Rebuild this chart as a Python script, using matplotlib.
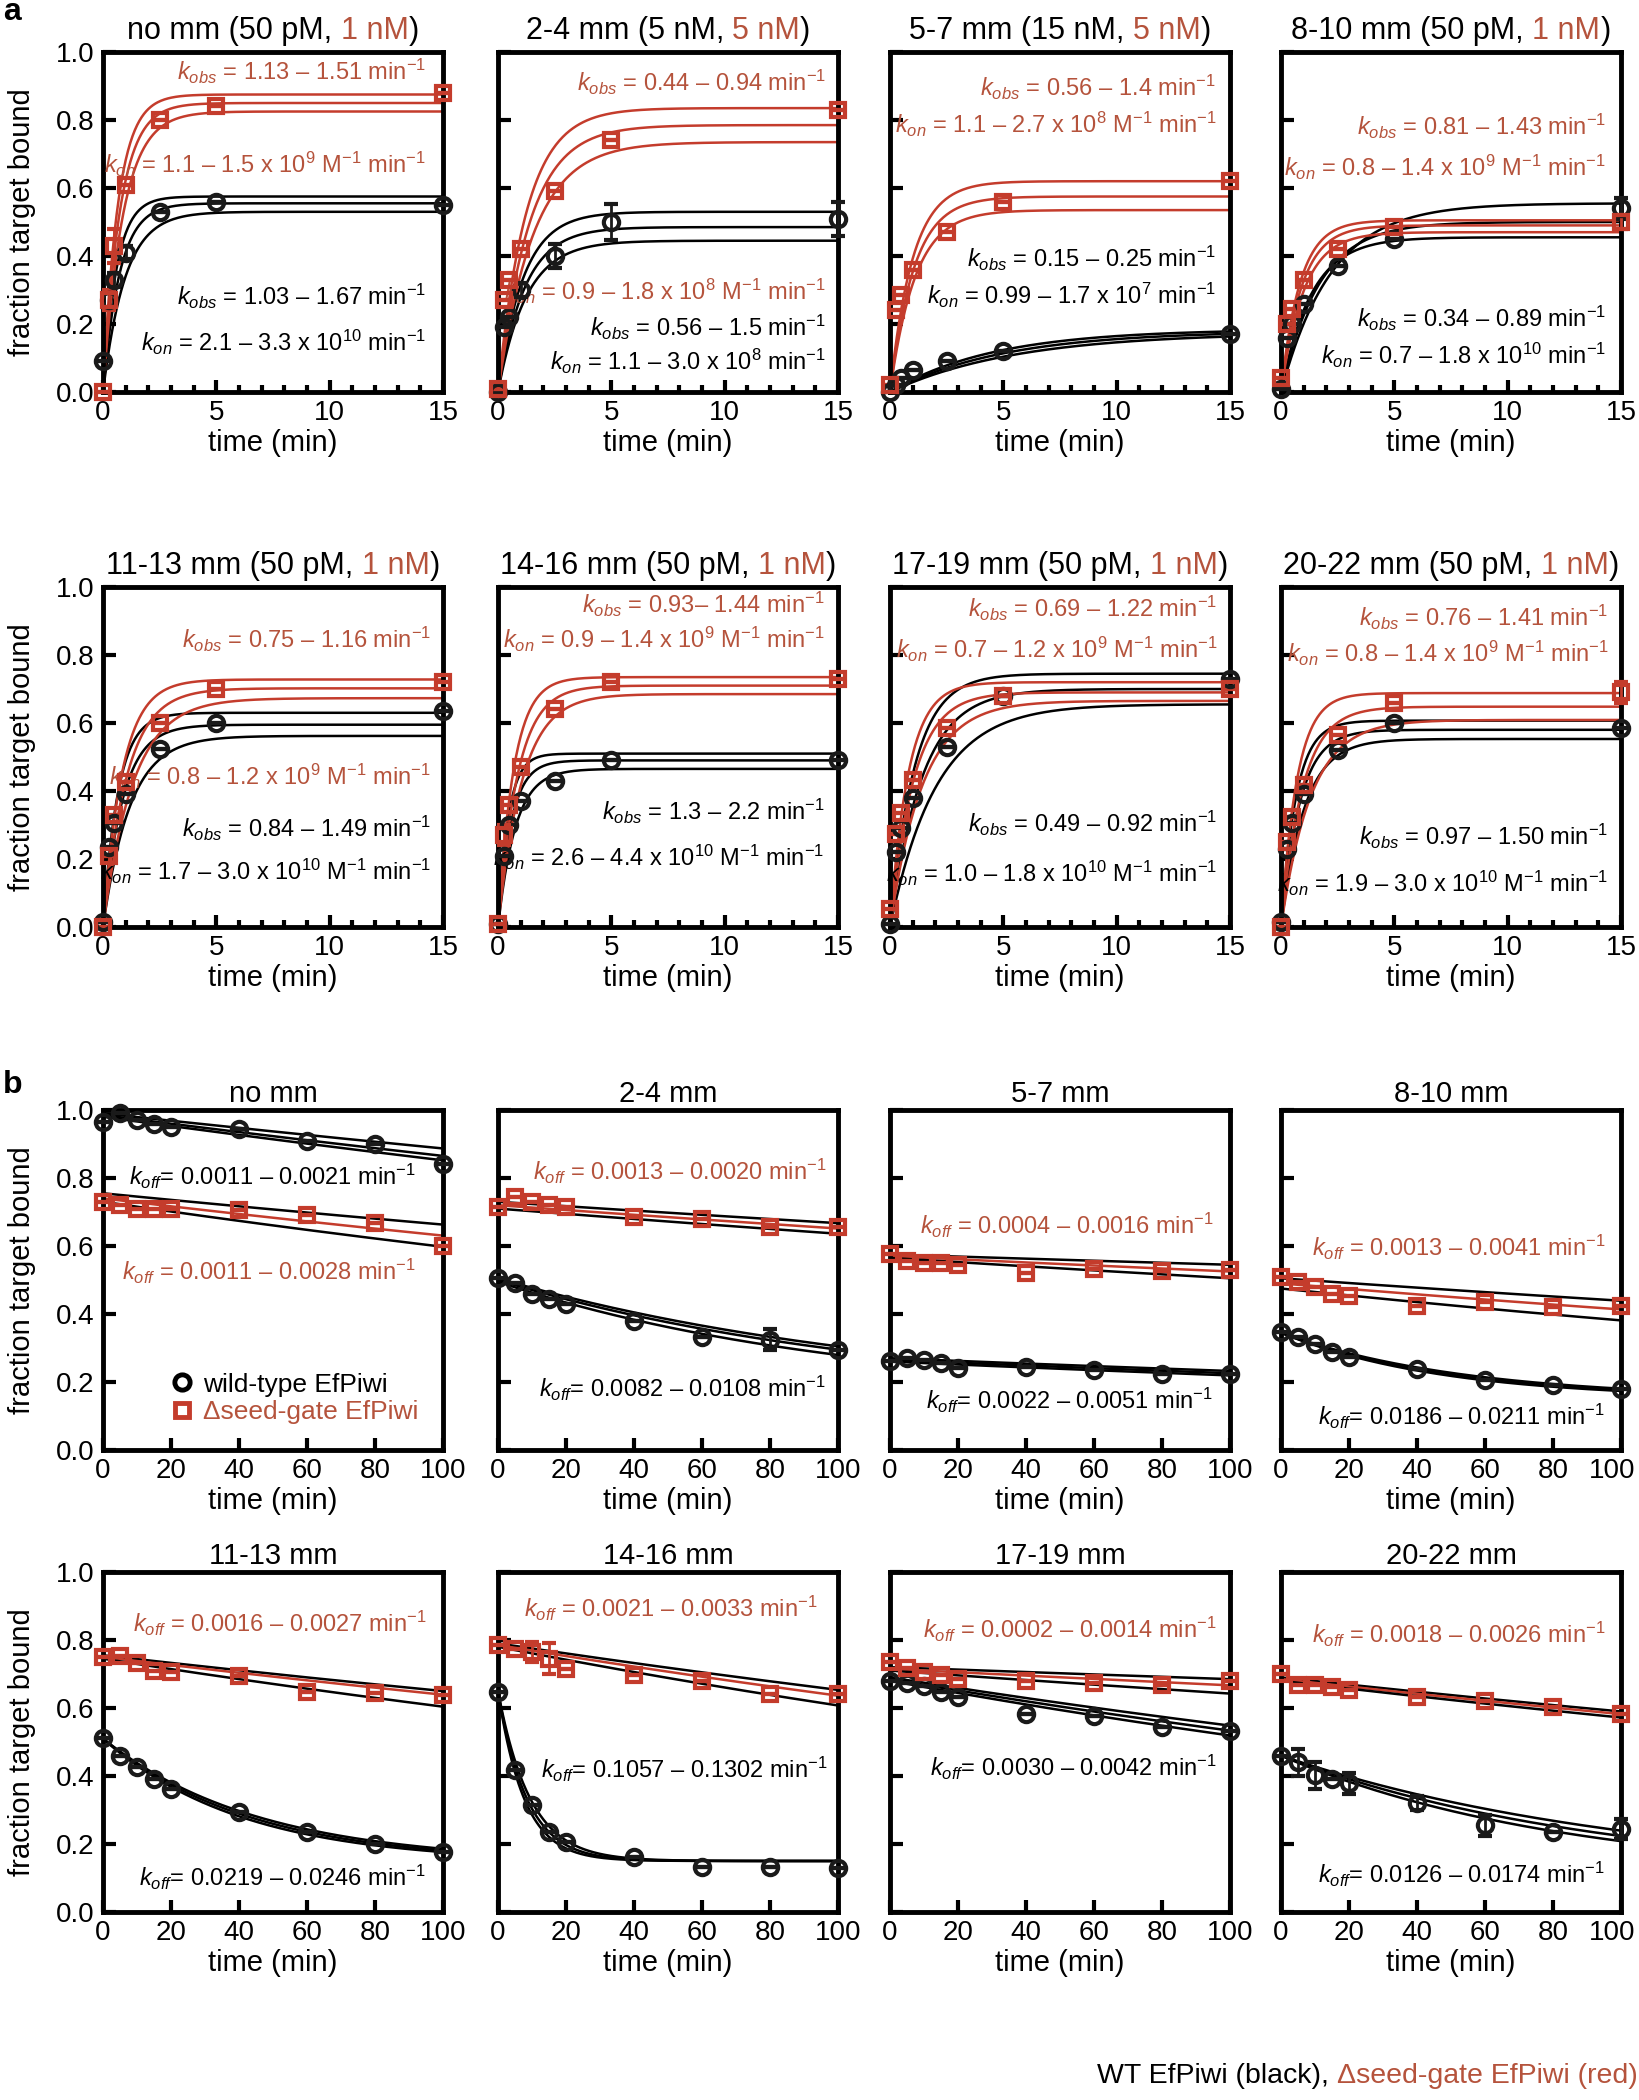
import numpy as np
import matplotlib
matplotlib.use("Agg")
import matplotlib.pyplot as plt
import matplotlib.transforms as mtransforms
from matplotlib.lines import Line2D

plt.rcParams["font.family"] = ["Liberation Sans", "DejaVu Sans"]
plt.rcParams["mathtext.fontset"] = "custom"
plt.rcParams["mathtext.rm"] = "Liberation Sans"
plt.rcParams["mathtext.it"] = "Liberation Sans:italic"
plt.rcParams["mathtext.bf"] = "Liberation Sans:bold"

RED = "#c43c2c"
RED_TXT = "#b5533c"

names = ["no mm", "2-4 mm", "5-7 mm", "8-10 mm", "11-13 mm", "14-16 mm", "17-19 mm", "20-22 mm"]

# ---------------- a: association ----------------
t_on = [0, 0.25, 0.5, 1, 2.5, 5, 15]
conc_wt = ["50 pM", "5 nM", "15 nM", "50 pM", "50 pM", "50 pM", "50 pM", "50 pM"]
conc_sg = ["1 nM", "5 nM", "5 nM", "1 nM", "1 nM", "1 nM", "1 nM", "1 nM"]

on_wt = [
    [0.09, 0.27, 0.33, 0.41, 0.53, 0.56, 0.55],
    [0.0, 0.19, 0.22, 0.30, 0.40, 0.50, 0.51],
    [0.0, 0.02, 0.04, 0.065, 0.09, 0.12, 0.17],
    [0.01, 0.16, 0.20, 0.26, 0.37, 0.45, 0.54],
    [0.015, 0.235, 0.305, 0.39, 0.525, 0.60, 0.634],
    [0.01, 0.21, 0.30, 0.37, 0.43, 0.49, 0.49],
    [0.01, 0.22, 0.29, 0.38, 0.53, 0.68, 0.73],
    [0.015, 0.23, 0.305, 0.39, 0.52, 0.60, 0.585],
]
on_wt_err = [
    [0, 0.02, 0.02, 0.02, 0, 0, 0],
    [0, 0, 0, 0.02, 0.035, 0.052, 0.05],
    [0, 0, 0, 0, 0, 0, 0],
    [0, 0, 0, 0, 0, 0, 0.03],
    [0, 0, 0, 0, 0, 0, 0],
    [0, 0, 0, 0, 0, 0, 0],
    [0, 0, 0, 0, 0, 0, 0],
    [0, 0, 0, 0, 0, 0, 0],
]
on_sg = [
    [0.0, 0.27, 0.43, 0.61, 0.80, 0.84, 0.88],
    [0.01, 0.27, 0.33, 0.42, 0.59, 0.74, 0.83],
    [0.02, 0.24, 0.285, 0.36, 0.47, 0.56, 0.62],
    [0.04, 0.20, 0.245, 0.33, 0.42, 0.485, 0.50],
    [0.0, 0.21, 0.33, 0.427, 0.60, 0.70, 0.722],
    [0.01, 0.27, 0.36, 0.47, 0.64, 0.72, 0.73],
    [0.054, 0.275, 0.334, 0.432, 0.585, 0.68, 0.70],
    [0.0, 0.25, 0.324, 0.417, 0.565, 0.658, 0.69],
]
on_sg_err = [
    [0, 0.03, 0.05, 0, 0, 0, 0],
    [0, 0, 0, 0, 0, 0, 0],
    [0, 0, 0, 0, 0, 0, 0],
    [0, 0, 0, 0, 0, 0, 0.02],
    [0, 0, 0, 0, 0, 0, 0],
    [0, 0.03, 0, 0, 0, 0, 0],
    [0, 0, 0, 0, 0, 0, 0],
    [0, 0, 0, 0, 0, 0, 0.03],
]
# fitted curves (upper, middle, lower): amplitude and k_obs
on_wt_amp = [[0.575, 0.555, 0.53], [0.53, 0.485, 0.445], [0.185, 0.18, 0.175], [0.555, 0.50, 0.455],
             [0.63, 0.595, 0.562], [0.51, 0.49, 0.465], [0.745, 0.70, 0.655], [0.607, 0.58, 0.553]]
on_wt_k = [[1.67, 1.35, 1.03], [0.9, 0.85, 0.8], [0.22, 0.2, 0.18], [0.45, 0.6, 0.75],
           [1.49, 1.15, 0.84], [2.2, 1.7, 1.3], [0.92, 0.7, 0.49], [1.5, 1.2, 0.97]]
on_sg_amp = [[0.875, 0.85, 0.825], [0.835, 0.785, 0.735], [0.62, 0.575, 0.535], [0.505, 0.49, 0.47],
             [0.728, 0.702, 0.673], [0.735, 0.71, 0.685], [0.72, 0.69, 0.665], [0.688, 0.648, 0.609]]
on_sg_k = [[1.51, 1.32, 1.13], [0.8, 0.72, 0.64], [1.0, 0.95, 0.9], [1.2, 1.1, 1.0],
           [1.16, 0.95, 0.75], [1.44, 1.15, 0.93], [1.22, 0.95, 0.69], [1.41, 1.05, 0.76]]

kobs_wt = ["1.03 – 1.67", "0.56 – 1.5", "0.15 – 0.25", "0.34 – 0.89", "0.84 – 1.49", "1.3 – 2.2", "0.49 – 0.92", "0.97 – 1.50"]
kobs_sg = ["1.13 – 1.51", "0.44 – 0.94", "0.56 – 1.4", "0.81 – 1.43", "0.75 – 1.16", "0.93– 1.44", "0.69 – 1.22", "0.76 – 1.41"]
kon_wt = ["2.1 – 3.3", "1.1 – 3.0", "0.99 – 1.7", "0.7 – 1.8", "1.7 – 3.0", "2.6 – 4.4", "1.0 – 1.8", "1.9 – 3.0"]
kon_wt_exp = [10, 8, 7, 10, 10, 10, 10, 10]
kon_wt_molar = [False, False, False, False, True, True, True, True]
kon_sg = ["1.1 – 1.5", "0.9 – 1.8", "1.1 – 2.7", "0.8 – 1.4", "0.8 – 1.2", "0.9 – 1.4", "0.7 – 1.2", "0.8 – 1.4"]
kon_sg_exp = [9, 8, 8, 9, 9, 9, 9, 9]

# ---------------- b: dissociation ----------------
t_off = [0, 5, 10, 15, 20, 40, 60, 80, 100]
off_wt = [
    [0.965, 0.99, 0.97, 0.96, 0.95, 0.945, 0.91, 0.90, 0.84],
    [0.505, 0.49, 0.46, 0.445, 0.43, 0.38, 0.333, 0.325, 0.294],
    [0.263, 0.27, 0.266, 0.256, 0.24, 0.245, 0.235, 0.225, 0.225],
    [0.346, 0.332, 0.312, 0.288, 0.273, 0.239, 0.205, 0.19, 0.178],
    [0.513, 0.458, 0.426, 0.392, 0.363, 0.294, 0.235, 0.20, 0.176],
    [0.647, 0.417, 0.314, 0.235, 0.206, 0.162, 0.132, 0.132, 0.129],
    [0.68, 0.674, 0.665, 0.647, 0.633, 0.582, 0.576, 0.543, 0.533],
    [0.459, 0.44, 0.402, 0.391, 0.378, 0.321, 0.255, 0.234, 0.245],
]
off_wt_err = [
    [0] * 9,
    [0, 0, 0, 0, 0, 0, 0, 0.03, 0],
    [0] * 9,
    [0] * 9,
    [0] * 9,
    [0] * 9,
    [0] * 9,
    [0, 0.04, 0.04, 0, 0.03, 0.02, 0.03, 0, 0.03],
]
off_sg = [
    [0.73, 0.72, 0.71, 0.71, 0.71, 0.705, 0.69, 0.667, 0.60],
    [0.715, 0.745, 0.73, 0.72, 0.715, 0.685, 0.68, 0.655, 0.655],
    [0.576, 0.556, 0.551, 0.551, 0.544, 0.522, 0.532, 0.527, 0.529],
    [0.51, 0.493, 0.478, 0.459, 0.454, 0.424, 0.434, 0.42, 0.424],
    [0.75, 0.752, 0.733, 0.71, 0.706, 0.693, 0.647, 0.644, 0.637],
    [0.784, 0.775, 0.765, 0.745, 0.716, 0.696, 0.68, 0.64, 0.64],
    [0.734, 0.717, 0.707, 0.696, 0.685, 0.68, 0.674, 0.668, 0.679],
    [0.70, 0.668, 0.668, 0.663, 0.652, 0.633, 0.622, 0.603, 0.582],
]
off_sg_err = [
    [0] * 9, [0] * 9, [0] * 9, [0] * 9, [0] * 9,
    [0, 0, 0.03, 0.045, 0, 0, 0, 0, 0],
    [0] * 9, [0] * 9,
]
# fitted curves (upper, middle, lower): start, k_off, plateau
off_wt_y0 = [[0.99, 0.985, 0.98], [0.505, 0.50, 0.495], [0.27, 0.265, 0.26], [0.345, 0.345, 0.345],
             [0.51, 0.51, 0.51], [0.65, 0.65, 0.65], [0.69, 0.685, 0.68], [0.46, 0.46, 0.46]]
off_wt_k = [[0.0011, 0.0013, 0.0014], [0.0083, 0.0088, 0.0098], [0.0015, 0.0016, 0.0017], [0.0186, 0.02, 0.0211],
            [0.0219, 0.0232, 0.0246], [0.1057, 0.118, 0.1302], [0.0023, 0.0025, 0.0027], [0.0095, 0.0107, 0.012]]
off_wt_c = [0, 0.15, 0, 0.15, 0.145, 0.15, 0, 0.1]
off_sg_y0 = [[0.755, 0.74, 0.73], [0.73, 0.72, 0.71], [0.575, 0.57, 0.565], [0.505, 0.49, 0.475],
             [0.755, 0.75, 0.745], [0.79, 0.785, 0.78], [0.72, 0.715, 0.71], [0.69, 0.685, 0.68]]
off_sg_k = [[0.0013, 0.0016, 0.002], [0.0009, 0.001, 0.0011], [0.00054, 0.00082, 0.00112], [0.0014, 0.0017, 0.0022],
            [0.0015, 0.0016, 0.0021], [0.0019, 0.0021, 0.0025], [0.0005, 0.0007, 0.001], [0.00157, 0.00163, 0.00173]]
off_sg_c = [0, 0, 0, 0, 0, 0, 0, 0]

koff_wt = ["0.0011 – 0.0021", "0.0082 – 0.0108", "0.0022 – 0.0051", "0.0186 – 0.0211",
           "0.0219 – 0.0246", "0.1057 – 0.1302", "0.0030 – 0.0042", "0.0126 – 0.0174"]
koff_sg = ["0.0011 – 0.0028", "0.0013 – 0.0020", "0.0004 – 0.0016", "0.0013 – 0.0041",
           "0.0016 – 0.0027", "0.0021 – 0.0033", "0.0002 – 0.0014", "0.0018 – 0.0026"]

# text positions (axes fraction)
on_txt_y = [[0.944, 0.67, 0.28, 0.147], [0.91, 0.296, 0.19, 0.09], [0.895, 0.787, 0.392, 0.285],
            [0.78, 0.66, 0.215, 0.108], [0.845, 0.442, 0.29, 0.162], [0.95, 0.845, 0.34, 0.205],
            [0.938, 0.815, 0.305, 0.157], [0.909, 0.805, 0.265, 0.128]]
on_txt_x = [0.95, 0.965, 0.96, 0.956, 0.965, 0.96, 0.963, 0.963]
off_txt_y = [[0.525, 0.804], [0.82, 0.18], [0.66, 0.146], [0.595, 0.098],
             [0.848, 0.103], [0.892, 0.42], [0.83, 0.424], [0.815, 0.109]]
off_txt_x = [[0.92, 0.92], [0.965, 0.965], [0.95, 0.95], [0.953, 0.953],
             [0.95, 0.95], [0.94, 0.97], [0.96, 0.96], [0.954, 0.954]]

W, H = 1639, 2100
fig = plt.figure(figsize=(W / 100, H / 100), dpi=100)
renderer = fig.canvas.get_renderer()

col_left = [103, 498, 890, 1281]
row_top = [52, 587, 1110, 1572]
SIZE = 340


def make_ax(r, c):
    ax = fig.add_axes([col_left[c] / W, 1 - (row_top[r] + SIZE) / H, SIZE / W, SIZE / H])
    for s in ax.spines.values():
        s.set_linewidth(3.5)
    ax.tick_params(which="both", direction="in", top=False, right=False, width=3, labelsize=20, pad=6)
    ax.tick_params(which="major", length=9)
    ax.tick_params(which="minor", length=5)
    ax.set_ylim(0, 1)
    ax.set_yticks([0, 0.2, 0.4, 0.6, 0.8, 1.0])
    if c == 0:
        ax.set_yticklabels(["0.0", "0.2", "0.4", "0.6", "0.8", "1.0"])
    else:
        ax.tick_params(labelleft=False)
    ax.set_xlabel("time (min)", fontsize=21, labelpad=2)
    return ax


def text_width(s, fs):
    t = fig.text(0, 0, s, fontsize=fs)
    w = t.get_window_extent(renderer).width
    t.remove()
    return w


def multicolor(parts, x, y, transform, fs, ha="center"):
    total = text_width("".join(p for p, _ in parts), fs)
    ref = text_width("l", fs)
    start = -total / 2 if ha == "center" else -total
    prefix = ""
    for s, c in parts:
        off = text_width(prefix + "l", fs) - ref if prefix else 0
        tr = mtransforms.offset_copy(transform, fig=fig, x=start + off, y=0, units="dots")
        fig.text(x, y, s, color=c, fontsize=fs, transform=tr, ha="left", va="baseline")
        prefix += s


def points(ax, t, y, err, color, marker, ms):
    ax.errorbar(t, y, yerr=err, fmt=marker, mfc="none", mec=color, mew=3, ms=ms,
                ecolor=color, elinewidth=2, capsize=5, capthick=2, clip_on=False, zorder=4)


tf_on = np.linspace(0, 15, 300)
tf_off = np.linspace(0, 100, 300)

for i in range(8):
    r, c = i // 4, i % 4
    ax = make_ax(r, c)
    ax.set_xlim(0, 15)
    ax.set_xticks([0, 5, 10, 15])
    ax.set_xticks(np.arange(0, 16, 1), minor=True)
    for a, k in zip(on_wt_amp[i], on_wt_k[i]):
        ax.plot(tf_on, a * (1 - np.exp(-k * tf_on)), color="k", lw=1.8, zorder=2)
    for a, k in zip(on_sg_amp[i], on_sg_k[i]):
        ax.plot(tf_on, a * (1 - np.exp(-k * tf_on)), color=RED, lw=1.8, zorder=2)
    points(ax, t_on, on_wt[i], on_wt_err[i], "#1a1a1a", "o", 11)
    points(ax, t_on, on_sg[i], on_sg_err[i], RED, "s", 10)

    ys = on_txt_y[i]
    xr = on_txt_x[i]
    ax.text(xr, ys[0], r"$k_{obs}$ = " + kobs_sg[i] + r" min$^{-1}$", color=RED_TXT,
            fontsize=17, ha="right", va="center", transform=ax.transAxes)
    ax.text(xr, ys[1], r"$k_{on}$ = " + kon_sg[i] + r" x $10^{%d}$ M$^{-1}$ min$^{-1}$" % kon_sg_exp[i],
            color=RED_TXT, fontsize=17, ha="right", va="center", transform=ax.transAxes)
    ax.text(xr, ys[2], r"$k_{obs}$ = " + kobs_wt[i] + r" min$^{-1}$", color="k",
            fontsize=17, ha="right", va="center", transform=ax.transAxes)
    unit = r" M$^{-1}$ min$^{-1}$" if kon_wt_molar[i] else r" min$^{-1}$"
    ax.text(xr, ys[3], r"$k_{on}$ = " + kon_wt[i] + r" x $10^{%d}$" % kon_wt_exp[i] + unit, color="k",
            fontsize=17, ha="right", va="center", transform=ax.transAxes)

    multicolor([(names[i] + " (" + conc_wt[i] + ", ", "k"), (conc_sg[i], RED_TXT), (")", "k")],
               0.5, 1.038, ax.transAxes, 22)

for i in range(8):
    r, c = 2 + i // 4, i % 4
    ax = make_ax(r, c)
    ax.set_xlim(0, 100)
    ax.set_xticks([0, 20, 40, 60, 80, 100])
    for y0, k in zip(off_wt_y0[i], off_wt_k[i]):
        cc = off_wt_c[i]
        ax.plot(tf_off, cc + (y0 - cc) * np.exp(-k * tf_off), color="k", lw=1.8, zorder=2)
    for y0, k, col in zip(off_sg_y0[i], off_sg_k[i], ["k", RED, "k"]):
        cc = off_sg_c[i]
        ax.plot(tf_off, cc + (y0 - cc) * np.exp(-k * tf_off), color=col, lw=1.8, zorder=2)
    points(ax, t_off, off_wt[i], off_wt_err[i], "#1a1a1a", "o", 11)
    points(ax, t_off, off_sg[i], off_sg_err[i], RED, "s", 10)

    ax.text(off_txt_x[i][0], off_txt_y[i][0], r"$k_{off}$ = " + koff_sg[i] + r" min$^{-1}$",
            color=RED_TXT, fontsize=17, ha="right", va="center", transform=ax.transAxes)
    ax.text(off_txt_x[i][1], off_txt_y[i][1], r"$k_{off}$= " + koff_wt[i] + r" min$^{-1}$",
            color="k", fontsize=17, ha="right", va="center", transform=ax.transAxes)
    ax.text(0.5, 1.025, names[i], fontsize=21, ha="center", va="baseline", transform=ax.transAxes)

    if c == 3:
        # keep the last "100" inside the figure
        lab = ax.xaxis.get_major_ticks()[-1].label1
        lab.set_transform(lab.get_transform() + mtransforms.Affine2D().translate(-9, 0))

    if i == 0:
        h1 = Line2D([], [], ls="none", marker="o", mfc="none", mec="k", mew=3.5, ms=11)
        h2 = Line2D([], [], ls="none", marker="s", mfc="none", mec=RED, mew=3.5, ms=10)
        leg = ax.legend([h1, h2], ["wild-type EfPiwi", "Δseed-gate EfPiwi"], loc="lower left",
                        bbox_to_anchor=(0.2, 0.075), frameon=False, fontsize=19, handlelength=0.8,
                        handletextpad=0.4, labelspacing=0.15, borderpad=0, borderaxespad=0)
        for t, col in zip(leg.get_texts(), ["k", RED_TXT]):
            t.set_color(col)

for r in range(4):
    fig.text(22 / W, 1 - (row_top[r] + SIZE / 2) / H, "fraction target bound", rotation=90,
             fontsize=21, ha="center", va="center")

fig.text(3 / W, 1 - 20 / H, "a", fontsize=23, fontweight="bold", va="baseline")
fig.text(3 / W, 1 - 1093 / H, "b", fontsize=23, fontweight="bold", va="baseline")

multicolor([("WT EfPiwi (black), ", "k"), ("Δseed-gate EfPiwi (red)", RED_TXT)],
           1636 / W, 1 - 2083 / H, fig.transFigure, 20.5, ha="right")

fig.savefig("out.png", dpi=100)
